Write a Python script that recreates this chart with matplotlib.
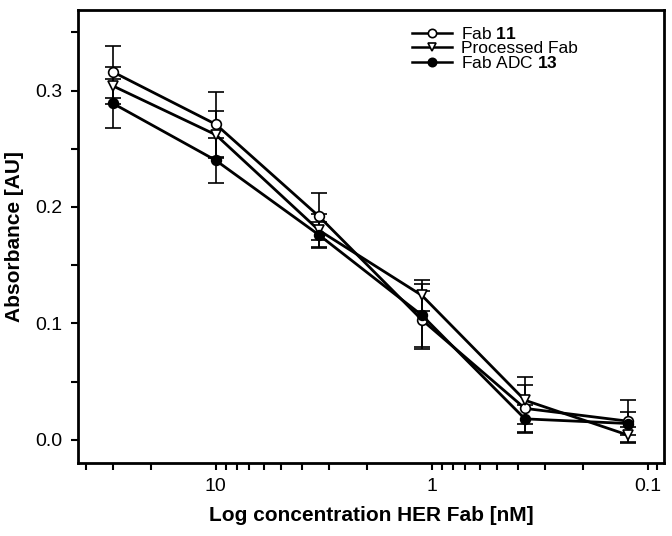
import matplotlib
matplotlib.use("Agg")
import matplotlib.pyplot as plt
from matplotlib.ticker import LogLocator, FixedLocator, FixedFormatter, NullFormatter, MultipleLocator

plt.rcParams['font.family'] = ['Liberation Sans', 'DejaVu Sans']
plt.rcParams['mathtext.fontset'] = 'custom'
plt.rcParams['mathtext.rm'] = 'Liberation Sans'
plt.rcParams['mathtext.bf'] = 'Liberation Sans:bold'

# concentration (nM)
conc = [30, 10, 3.33, 1.11, 0.37, 0.123]

fab11 = [0.316, 0.271, 0.192, 0.103, 0.027, 0.016]
fab11_err = [0.022, 0.028, 0.020, 0.025, 0.020, 0.018]

processed = [0.304, 0.262, 0.180, 0.124, 0.034, 0.004]
processed_err = [0.016, 0.020, 0.014, 0.013, 0.020, 0.007]

adc13 = [0.289, 0.240, 0.176, 0.107, 0.018, 0.014]
adc13_err = [0.021, 0.019, 0.011, 0.027, 0.012, 0.010]

labels = ["Fab $\\mathbf{11}$", "Processed Fab", "Fab ADC $\\mathbf{13}$"]
xtick_vals = [10, 1, 0.1]
xtick_labels = ["10", "1", "0.1"]
ytick_vals = [0.0, 0.1, 0.2, 0.3]
ytick_labels = ["0.0", "0.1", "0.2", "0.3"]

fig = plt.figure(figsize=(6.72, 5.36), dpi=100)
ax = fig.add_axes([0.116, 0.136, 0.872, 0.845])

common = dict(color='black', lw=2.0, ms=7, elinewidth=1.2, capsize=6, capthick=1.2, ecolor='black')
e1 = ax.errorbar(conc, fab11, yerr=fab11_err, marker='o', mfc='white', mec='black', mew=1.2, **common)
e2 = ax.errorbar(conc, processed, yerr=processed_err, marker='v', mfc='white', mec='black', mew=1.2, **common)
e3 = ax.errorbar(conc, adc13, yerr=adc13_err, marker='o', mfc='black', mec='black', mew=1.2, **common)

ax.set_xscale('log')
ax.set_xlim(43.5, 0.084)
ax.set_ylim(-0.02, 0.369)

ax.xaxis.set_major_locator(FixedLocator(xtick_vals))
ax.xaxis.set_major_formatter(FixedFormatter(xtick_labels))
ax.xaxis.set_minor_locator(LogLocator(base=10, subs=range(2, 10), numticks=20))
ax.xaxis.set_minor_formatter(NullFormatter())
ax.yaxis.set_major_locator(FixedLocator(ytick_vals))
ax.yaxis.set_major_formatter(FixedFormatter(ytick_labels))
ax.yaxis.set_minor_locator(MultipleLocator(0.05))

ax.tick_params(which='both', direction='out', width=1.5, labelsize=14, colors='black')
ax.tick_params(which='major', length=5, pad=6)
ax.tick_params(which='minor', length=5)
for s in ax.spines.values():
    s.set_linewidth(2.0)

ax.set_xlabel("Log concentration HER Fab [nM]", fontsize=15, fontweight='bold', labelpad=8)
ax.set_ylabel("Absorbance [AU]", fontsize=15, fontweight='bold', labelpad=8)

leg = ax.legend([e1[0], e2[0], e3[0]], labels, loc='upper left', bbox_to_anchor=(0.57, 0.965),
                frameon=False, fontsize=12.5, handlelength=2.3, handletextpad=0.5,
                labelspacing=-0.05, borderaxespad=0, borderpad=0)
for h in leg.legend_handles:
    h.set_linewidth(1.8)
    h.set_markersize(6)

fig.savefig("out.png", dpi=100)
